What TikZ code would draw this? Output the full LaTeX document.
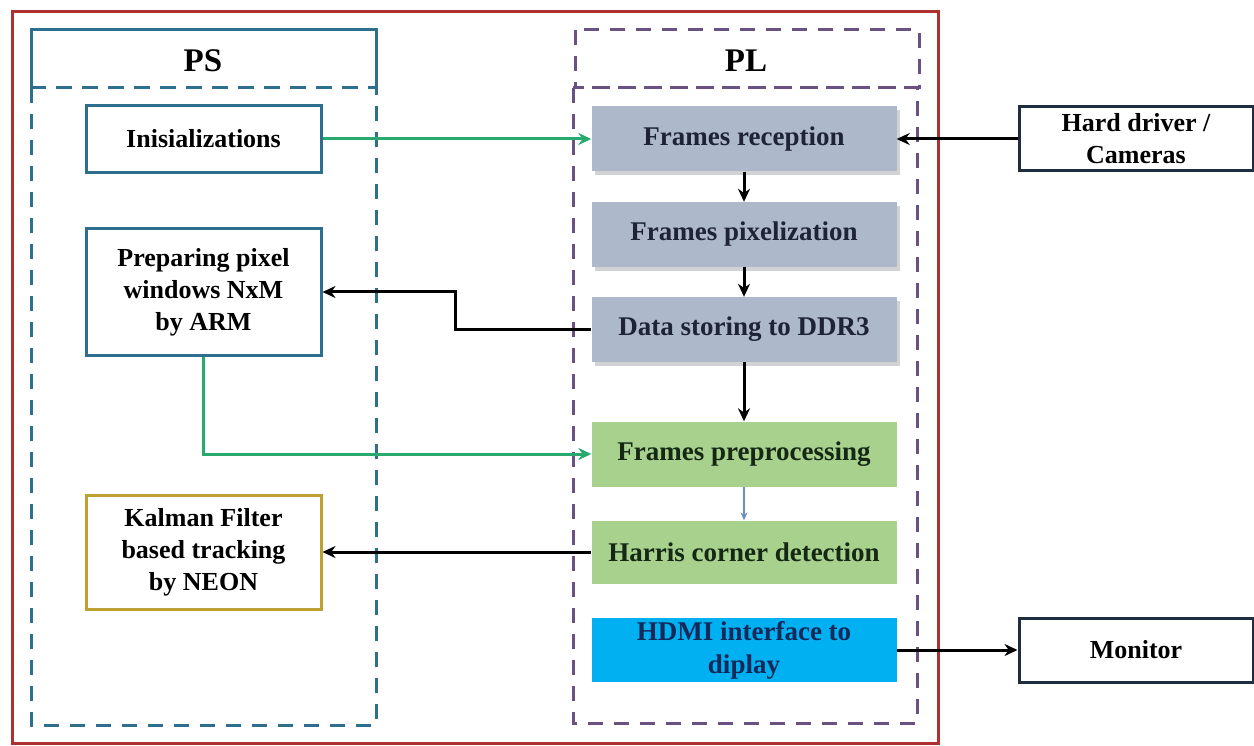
\documentclass[tikz,border=0pt]{standalone}
\usepackage{fontspec}
\setmainfont{Liberation Serif}
\usetikzlibrary{arrows.meta,shadows}
\definecolor{outerred}{RGB}{176,48,48}
\definecolor{psblue}{RGB}{46,110,142}
\definecolor{plpurple}{RGB}{105,82,130}
\definecolor{grayfill}{RGB}{173,185,202}
\definecolor{greenfill}{RGB}{169,209,142}
\definecolor{cyanfill}{RGB}{0,176,240}
\definecolor{olive}{RGB}{191,160,50}
\definecolor{navy}{RGB}{31,45,64}
\definecolor{greenarrow}{RGB}{40,170,110}
\definecolor{thinarrow}{RGB}{110,140,190}
\definecolor{graytext}{RGB}{30,35,55}
\definecolor{greentext}{RGB}{20,40,20}
\definecolor{hdmitext}{RGB}{20,40,90}
\tikzset{
  lbl/.style={font=\fontsize{26}{32}\selectfont\bfseries, align=center, inner sep=0pt},
  psbox/.style={lbl, draw=psblue, line width=3pt, fill=white, minimum width=235pt},
  plbox/.style={lbl, font=\fontsize{27}{33}\selectfont\bfseries, minimum width=305pt, minimum height=65pt},
  graybox/.style={plbox, fill=grayfill, text=graytext, drop shadow={shadow xshift=3pt, shadow yshift=-4pt, opacity=0.35, fill=gray}},
  greenbox/.style={plbox, fill=greenfill, text=greentext},
  extbox/.style={lbl, draw=navy, line width=3pt, minimum width=234pt, minimum height=64pt},
  conn/.style={line width=3pt, -{Stealth[length=13pt,width=12pt]}},
  gconn/.style={conn, draw=greenarrow},
  title/.style={font=\fontsize{33}{36}\selectfont\bfseries, inner sep=0pt}
}
\begin{document}
\begin{tikzpicture}[x=1pt,y=-1pt]
\useasboundingbox (0,0) rectangle (1254,746);
\fill[white] (0,0) rectangle (1254,746);
% outer red frame
\draw[outerred, line width=3pt] (12,12) rectangle (938,743);
% PS region
\draw[psblue, line width=3pt] (31,88) -- (31,30) -- (376,30) -- (376,88);
\draw[psblue, line width=3pt, dash pattern=on 15pt off 11pt] (31,88) -- (376,88);
\draw[psblue, line width=3pt, dash pattern=on 15pt off 11pt] (31,88) rectangle (376,725);
\node[title] (pstitle) at (203,61) {PS};
% PL region
\draw[plpurple, line width=3pt, dash pattern=on 15pt off 11pt] (575,30) rectangle (919,88);
\draw[plpurple, line width=3pt, dash pattern=on 15pt off 11pt] (573,88) rectangle (917,723);
\node[title] (pltitle) at (746,61) {PL};
% PS boxes
\node[psbox, minimum height=67pt] (init) at (203.5,139) {Inisializations};
\node[psbox, minimum height=126pt] (prep) at (203.5,292) {Preparing pixel\\windows NxM\\by ARM};
\node[psbox, draw=olive, minimum height=114pt] (kal) at (203.5,552) {Kalman Filter\\based tracking\\by NEON};
% PL boxes
\node[graybox] (recv) at (744,139) {Frames reception};
\node[graybox] (pix) at (744,234.5) {Frames pixelization};
\node[graybox] (ddr) at (744,329.5) {Data storing to DDR3};
\node[greenbox] (pre) at (744,454) {Frames preprocessing};
\node[greenbox, minimum height=63pt] (harris) at (744,552) {Harris corner detection};
\node[plbox, fill=cyanfill, text=hdmitext, minimum height=64pt] (hdmi) at (744,650) {HDMI interface to\\diplay};
% external boxes
\node[extbox] (hdd) at (1136,139) {Hard driver /\\Cameras};
\node[extbox] (mon) at (1136,650) {Monitor};
% connectors
\draw[gconn] (init.east) -- (recv.west);
\draw[conn] (hdd.west) -- (recv.east);
\draw[conn] (recv.south) -- (pix.north);
\draw[conn] (pix.south) -- (ddr.north);
\draw[conn] (ddr.west) -- (455,329.5) -- (455,292) -- (prep.east);
\draw[conn] (ddr.south) -- (pre.north);
\draw[gconn] (prep.south) -- (prep.south |- pre.west) -- (pre.west);
\draw[thinarrow, line width=1.2pt, -{Stealth[length=8pt,width=7pt]}] (pre.south) -- (harris.north);
\draw[conn] (harris.west) -- (kal.east);
\draw[conn] (hdmi.east) -- (mon.west);
\end{tikzpicture}
\end{document}
